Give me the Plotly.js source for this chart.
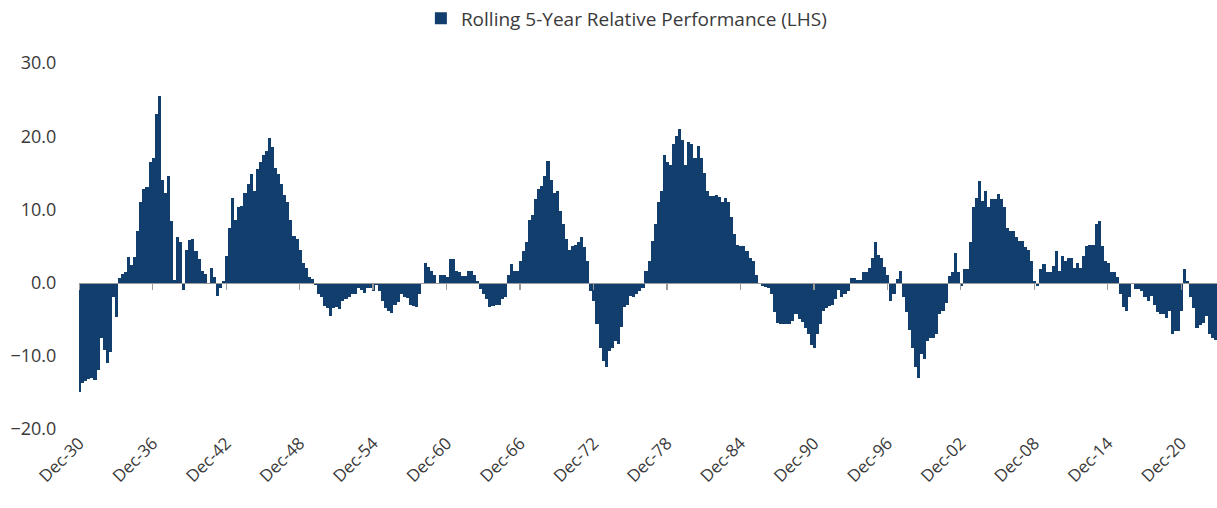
<!DOCTYPE html>
<html>
<head>
<meta charset="utf-8">
<script src="https://cdn.plot.ly/plotly-3.0.1.min.js"></script>
<style>
  html, body { margin: 0; padding: 0; background: #ffffff; }
  #chart { width: 1217px; height: 508px; }
</style>
</head>
<body>
<div id="chart"></div>
<script>
// Quarterly readings, one row per year: Dec(prev year), Mar, Jun, Sep
const startYear = 1931;
const quarterMonths = ['12', '03', '06', '09'];
const rollingRelPerf = [
  -15.0, -13.7, -13.5, -13.2,   // 1931
  -13.0, -13.3, -12.0, -7.5,    // 1932
  -9.2, -11.0, -9.5, -2.0,      // 1933
  -4.7, 0.6, 1.2, 1.5,          // 1934
  3.5, 2.4, 3.5, 7.0,           // 1935
  11.0, 12.8, 13.0, 16.5,       // 1936
  17.0, 23.0, 25.5, 14.0,       // 1937
  12.3, 14.5, 8.4, 0.4,         // 1938
  6.2, 5.5, -1.0, 4.5,          // 1939
  5.8, 5.9, 4.3, 3.2,           // 1940
  1.6, 1.2, -0.2, 2.0,          // 1941
  0.7, -1.8, -0.8, 0.2,         // 1942
  3.6, 7.5, 11.6, 8.5,          // 1943
  10.3, 10.5, 12.3, 13.5,       // 1944
  14.8, 12.5, 15.5, 16.5,       // 1945
  17.5, 18.0, 19.8, 18.5,       // 1946
  15.7, 14.8, 13.5, 12.0,       // 1947
  11.0, 8.5, 6.4, 6.0,          // 1948
  4.5, 2.7, 2.0, 0.8,           // 1949
  0.5, -0.3, -1.6, -2.0,        // 1950
  -3.2, -3.5, -4.5, -3.5,       // 1951
  -3.4, -3.6, -2.5, -2.2,       // 1952
  -2.0, -1.6, -1.5, -0.7,       // 1953
  -1.0, -1.4, -0.8, -0.7,       // 1954
  -1.1, -0.3, -1.2, -2.5,       // 1955
  -3.5, -3.9, -4.1, -3.0,       // 1956
  -2.7, -1.6, -2.0, -2.1,       // 1957
  -3.0, -3.2, -3.4, -1.6,       // 1958
  -0.2, 2.7, 2.2, 1.6,          // 1959
  1.1, -0.2, 1.1, 1.1,          // 1960
  0.8, 3.2, 3.2, 1.6,           // 1961
  1.4, 0.9, 0.9, 1.6,           // 1962
  1.6, 1.0, 0.2, -0.9,          // 1963
  -1.5, -2.3, -3.4, -3.2,       // 1964
  -3.0, -3.0, -2.2, -2.0,       // 1965
  1.1, 2.5, 1.6, 1.6,           // 1966
  3.0, 4.3, 5.5, 8.5,           // 1967
  9.3, 11.4, 12.8, 13.2,        // 1968
  14.6, 16.6, 14.0, 12.3,       // 1969
  12.5, 9.8, 8.0, 6.0,          // 1970
  4.5, 5.0, 5.2, 5.5,           // 1971
  6.2, 4.8, 3.0, -1.1,          // 1972
  -2.5, -5.7, -8.9, -10.7,      // 1973
  -11.5, -9.3, -9.0, -8.0,      // 1974
  -8.4, -6.0, -3.4, -3.0,       // 1975
  -1.8, -2.0, -1.6, -1.1,       // 1976
  -0.8, 1.6, 3.0, 5.7,          // 1977
  8.0, 11.0, 12.5, 17.5,        // 1978
  16.5, 16.0, 19.0, 20.0,       // 1979
  21.0, 19.5, 16.0, 19.2,       // 1980
  19.0, 17.0, 18.7, 17.0,       // 1981
  15.0, 12.5, 11.8, 11.8,       // 1982
  11.9, 11.7, 11.0, 11.6,       // 1983
  11.0, 8.9, 6.6, 5.2,          // 1984
  5.0, 5.0, 4.3, 3.4,           // 1985
  3.0, 1.1, -0.2, -0.5,         // 1986
  -0.6, -0.8, -1.6, -4.0,       // 1987
  -5.5, -5.7, -5.7, -5.7,       // 1988
  -5.6, -5.2, -4.3, -5.0,       // 1989
  -5.4, -6.2, -7.0, -8.5,       // 1990
  -8.9, -7.0, -5.7, -3.9,       // 1991
  -3.5, -3.2, -3.0, -2.3,       // 1992
  -1.0, -2.0, -1.5, -1.1,       // 1993
  0.6, 0.6, 0.4, 0.3,           // 1994
  1.5, 1.5, 2.0, 3.4,           // 1995
  5.5, 3.8, 3.4, 2.2,           // 1996
  1.0, -2.5, -1.5, 0.5,         // 1997
  1.6, -2.0, -4.0, -6.5,        // 1998
  -9.0, -11.5, -13.0, -9.8,     // 1999
  -10.5, -8.0, -7.5, -7.5,      // 2000
  -7.0, -4.3, -3.9, -2.8,       // 2001
  0.9, 1.4, 4.0, 1.4,           // 2002
  -0.5, 1.8, 1.8, 5.5,          // 2003
  10.3, 11.6, 13.9, 11.2,       // 2004
  12.5, 10.3, 11.4, 11.4,       // 2005
  12.1, 11.4, 10.3, 7.5,        // 2006
  7.0, 7.0, 6.2, 5.7,           // 2007
  5.7, 4.8, 4.5, 3.0,           // 2008
  0.2, -0.5, 1.8, 2.5,          // 2009
  1.4, 1.4, 2.3, 4.3,           // 2010
  1.6, 3.6, 3.0, 3.4,           // 2011
  3.4, 2.0, 2.7, 2.0,           // 2012
  3.6, 5.0, 5.2, 5.2,           // 2013
  8.0, 8.4, 5.0, 2.9,           // 2014
  2.7, 1.4, 1.4, 0.7,           // 2015
  -1.6, -3.4, -3.9, -2.0,       // 2016
  -0.2, -0.9, -0.9, -1.1,       // 2017
  -2.0, -2.5, -1.8, -3.0,       // 2018
  -4.0, -4.3, -4.3, -4.8,       // 2019
  -3.9, -7.0, -6.6, -6.6,       // 2020
  -3.9, 1.8, 0.2, -2.0,         // 2021
  -3.5, -6.2, -5.8, -5.5,       // 2022
  -4.5, -7.0, -7.5, -7.8        // 2023
];
const tickYears = [1930, 1936, 1942, 1948, 1954, 1960, 1966, 1972, 1978, 1984, 1990, 1996, 2002, 2008, 2014, 2020];
const tickLabels = ['Dec-30','Dec-36','Dec-42','Dec-48','Dec-54','Dec-60','Dec-66','Dec-72','Dec-78','Dec-84','Dec-90','Dec-96','Dec-02','Dec-08','Dec-14','Dec-20'];
const yTicks = [-20, -10, 0, 10, 20, 30];
const seriesName = 'Rolling 5-Year Relative Performance (LHS)';

// build quarter dates
const dates = [];
for (let i = 0; i < rollingRelPerf.length; i++) {
  const yr = startYear + Math.floor(i / 4);
  const q = i % 4;
  const y = q === 0 ? yr - 1 : yr;
  dates.push(y + '-' + quarterMonths[q] + '-15');
}
const tickVals = tickYears.map(y => y + '-12-01');

const navy = '#113e6c';
const txt = '#3a3a3a';
const font = "'Open Sans', 'DejaVu Sans', sans-serif";
const xRange = ['1930-11-25', '2023-11-01'];

const data = [
  {
    type: 'bar',
    x: dates,
    y: rollingRelPerf,
    name: seriesName,
    marker: { color: navy, line: { width: 0 } },
    width: 92 * 86400000,
    xaxis: 'x',
    yaxis: 'y',
    hoverinfo: 'x+y'
  },
  {
    type: 'scatter',
    mode: 'markers',
    x: [dates[0]],
    y: [0],
    marker: { opacity: 0, size: 1 },
    xaxis: 'x2',
    yaxis: 'y',
    showlegend: false,
    hoverinfo: 'skip'
  }
];

const layout = {
  width: 1217,
  height: 508,
  margin: { l: 79, r: 0, t: 63, b: 79 },
  paper_bgcolor: '#ffffff',
  plot_bgcolor: '#ffffff',
  font: { family: font, color: txt },
  bargap: 0,
  showlegend: true,
  legend: {
    orientation: 'h',
    xref: 'container', yref: 'container',
    x: 0.5147, xanchor: 'center',
    y: 0.964, yanchor: 'middle',
    font: { size: 19, color: txt, family: font },
    itemwidth: 30
  },
  xaxis: {
    type: 'date',
    range: xRange,
    tickmode: 'array',
    tickvals: tickVals,
    ticktext: tickLabels,
    tickangle: -45,
    tickfont: { size: 17, color: txt, family: font },
    showgrid: false,
    zeroline: false,
    showline: false,
    ticks: ''
  },
  xaxis2: {
    type: 'date',
    overlaying: 'x',
    matches: 'x',
    anchor: 'free',
    position: 0.4,
    range: xRange,
    tickmode: 'array',
    tickvals: tickVals,
    showticklabels: false,
    showgrid: false,
    zeroline: false,
    showline: true,
    linecolor: '#9a9a9a',
    linewidth: 1.5,
    ticks: 'outside',
    ticklen: 6,
    tickwidth: 1.2,
    tickcolor: '#9a9a9a'
  },
  yaxis: {
    range: [-20, 30],
    tickmode: 'array',
    tickvals: yTicks,
    tickformat: '.1f',
    tickfont: { size: 18, color: txt, family: font },
    showgrid: false,
    zeroline: false,
    showline: false,
    ticks: 'outside',
    ticklen: 18,
    tickcolor: 'rgba(0,0,0,0)'
  }
};

Plotly.newPlot('chart', data, layout, { displayModeBar: false, staticPlot: true });
</script>
</body>
</html>
